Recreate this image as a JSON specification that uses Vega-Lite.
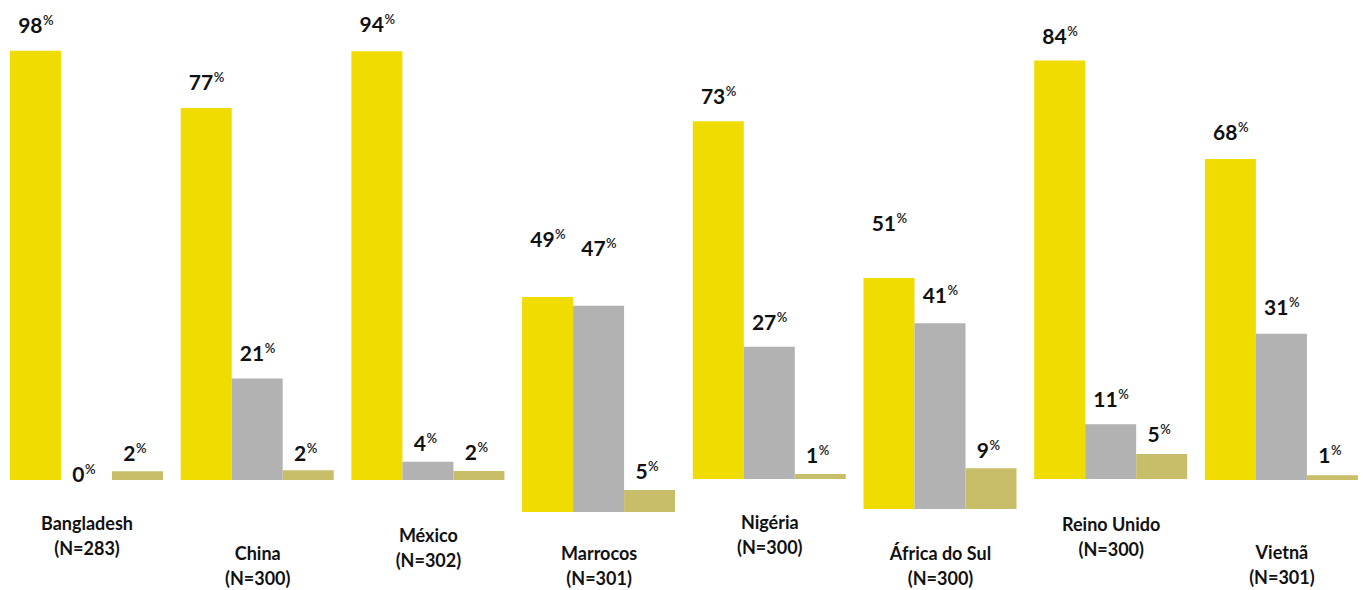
{
  "$schema": "https://vega.github.io/schema/vega-lite/v6.json",
  "background": "white",
  "padding": {"left": 10, "top": 0, "right": 0, "bottom": 0},
  "bounds": "flush",
  "spacing": 17.7,
  "config": {"view": {"stroke": null}, "font": "Lato", "axis": {"titleFont": "Lato", "titleFontSize": 18, "titleFontWeight": "bold", "titleColor": "#111111", "titleLineHeight": 25, "labels": false, "ticks": false, "domain": false, "grid": false}},
  "resolve": {"scale": {"y": "independent", "x": "independent"}},
  "data": {"values": [
    {"country": "Bangladesh", "serie": "1", "value": 98},
    {"country": "Bangladesh", "serie": "2", "value": 0},
    {"country": "Bangladesh", "serie": "3", "value": 2},
    {"country": "China", "serie": "1", "value": 77},
    {"country": "China", "serie": "2", "value": 21},
    {"country": "China", "serie": "3", "value": 2},
    {"country": "México", "serie": "1", "value": 94},
    {"country": "México", "serie": "2", "value": 4},
    {"country": "México", "serie": "3", "value": 2},
    {"country": "Marrocos", "serie": "1", "value": 49},
    {"country": "Marrocos", "serie": "2", "value": 47},
    {"country": "Marrocos", "serie": "3", "value": 5},
    {"country": "Nigéria", "serie": "1", "value": 73},
    {"country": "Nigéria", "serie": "2", "value": 27},
    {"country": "Nigéria", "serie": "3", "value": 1},
    {"country": "África do Sul", "serie": "1", "value": 51},
    {"country": "África do Sul", "serie": "2", "value": 41},
    {"country": "África do Sul", "serie": "3", "value": 9},
    {"country": "Reino Unido", "serie": "1", "value": 84},
    {"country": "Reino Unido", "serie": "2", "value": 11},
    {"country": "Reino Unido", "serie": "3", "value": 5},
    {"country": "Vietnã", "serie": "1", "value": 68},
    {"country": "Vietnã", "serie": "2", "value": 31},
    {"country": "Vietnã", "serie": "3", "value": 1}
  ]},
  "hconcat": [
    {
      "width": 153, "height": 480,
      "transform": [{"filter": "datum.country === 'Bangladesh'"}],
      "encoding": {
        "x": {"field": "serie", "type": "nominal", "scale": {"paddingInner": 0, "paddingOuter": 0}, "axis": {"title": ["Bangladesh", "(N=283)"], "titlePadding": 35}},
        "y": {"field": "value", "type": "quantitative", "scale": {"domain": [0, 109.59], "nice": false}, "axis": null}
      },
      "layer": [
        {"mark": {"type": "bar"}, "encoding": {"color": {"field": "serie", "type": "nominal", "scale": {"domain": ["1", "2", "3"], "range": ["#F0DC00", "#B2B2B2", "#C8BE6A"]}, "legend": null}}},
        {"mark": {"type": "text", "font": "Lato", "fontSize": 21, "fontWeight": "bold", "color": "#111111", "align": "right", "baseline": "alphabetic", "dx": {"expr": "datum.value >= 10 ? 7 : -2"}, "dy": {"expr": "datum.value == 0 ? 2 : datum.value < 10 ? -10 : -18"}}, "encoding": {"text": {"field": "value", "type": "quantitative"}}},
        {"mark": {"type": "text", "font": "Lato", "fontSize": 13, "fontWeight": 600, "color": "#111111", "align": "left", "baseline": "alphabetic", "dx": {"expr": "datum.value >= 10 ? 7.5 : -1.5"}, "dy": {"expr": "datum.value == 0 ? -6 : datum.value < 10 ? -18 : -26"}}, "encoding": {"text": {"value": "%"}}}
      ]
    },
    {
      "width": 153, "height": 480,
      "transform": [{"filter": "datum.country === 'China'"}],
      "encoding": {
        "x": {"field": "serie", "type": "nominal", "scale": {"paddingInner": 0, "paddingOuter": 0}, "axis": {"title": ["China", "(N=300)"], "titlePadding": 65}},
        "y": {"field": "value", "type": "quantitative", "scale": {"domain": [0, 99.38], "nice": false}, "axis": null}
      },
      "layer": [
        {"mark": {"type": "bar"}, "encoding": {"color": {"field": "serie", "type": "nominal", "scale": {"domain": ["1", "2", "3"], "range": ["#F0DC00", "#B2B2B2", "#C8BE6A"]}, "legend": null}}},
        {"mark": {"type": "text", "font": "Lato", "fontSize": 21, "fontWeight": "bold", "color": "#111111", "align": "right", "baseline": "alphabetic", "dx": {"expr": "datum.value >= 10 ? 7 : -2"}, "dy": {"expr": "datum.value < 10 ? -9 : -18"}}, "encoding": {"text": {"field": "value", "type": "quantitative"}}},
        {"mark": {"type": "text", "font": "Lato", "fontSize": 13, "fontWeight": 600, "color": "#111111", "align": "left", "baseline": "alphabetic", "dx": {"expr": "datum.value >= 10 ? 7.5 : -1.5"}, "dy": {"expr": "datum.value < 10 ? -17 : -26"}}, "encoding": {"text": {"value": "%"}}}
      ]
    },
    {
      "width": 153, "height": 480,
      "transform": [{"filter": "datum.country === 'México'"}],
      "encoding": {
        "x": {"field": "serie", "type": "nominal", "scale": {"paddingInner": 0, "paddingOuter": 0}, "axis": {"title": ["México", "(N=302)"], "titlePadding": 47}},
        "y": {"field": "value", "type": "quantitative", "scale": {"domain": [0, 105.26], "nice": false}, "axis": null}
      },
      "layer": [
        {"mark": {"type": "bar"}, "encoding": {"color": {"field": "serie", "type": "nominal", "scale": {"domain": ["1", "2", "3"], "range": ["#F0DC00", "#B2B2B2", "#C8BE6A"]}, "legend": null}}},
        {"mark": {"type": "text", "font": "Lato", "fontSize": 21, "fontWeight": "bold", "color": "#111111", "align": "right", "baseline": "alphabetic", "dx": {"expr": "datum.value >= 10 ? 7 : -2"}, "dy": {"expr": "datum.value < 10 ? -11 : -19"}}, "encoding": {"text": {"field": "value", "type": "quantitative"}}},
        {"mark": {"type": "text", "font": "Lato", "fontSize": 13, "fontWeight": 600, "color": "#111111", "align": "left", "baseline": "alphabetic", "dx": {"expr": "datum.value >= 10 ? 7.5 : -1.5"}, "dy": {"expr": "datum.value < 10 ? -19 : -27"}}, "encoding": {"text": {"value": "%"}}}
      ]
    },
    {
      "width": 153, "height": 512,
      "transform": [{"filter": "datum.country === 'Marrocos'"}],
      "encoding": {
        "x": {"field": "serie", "type": "nominal", "scale": {"paddingInner": 0, "paddingOuter": 0}, "axis": {"title": ["Marrocos", "(N=301)"], "titlePadding": 33}},
        "y": {"field": "value", "type": "quantitative", "scale": {"domain": [0, 116.63], "nice": false}, "axis": null}
      },
      "layer": [
        {"mark": {"type": "bar"}, "encoding": {"color": {"field": "serie", "type": "nominal", "scale": {"domain": ["1", "2", "3"], "range": ["#F0DC00", "#B2B2B2", "#C8BE6A"]}, "legend": null}}},
        {"mark": {"type": "text", "font": "Lato", "fontSize": 21, "fontWeight": "bold", "color": "#111111", "align": "right", "baseline": "alphabetic", "dx": {"expr": "datum.value >= 10 ? 7 : -2"}, "dy": {"expr": "datum.value < 10 ? -11 : -50"}}, "encoding": {"text": {"field": "value", "type": "quantitative"}}},
        {"mark": {"type": "text", "font": "Lato", "fontSize": 13, "fontWeight": 600, "color": "#111111", "align": "left", "baseline": "alphabetic", "dx": {"expr": "datum.value >= 10 ? 7.5 : -1.5"}, "dy": {"expr": "datum.value < 10 ? -19 : -58"}}, "encoding": {"text": {"value": "%"}}}
      ]
    },
    {
      "width": 153, "height": 479,
      "transform": [{"filter": "datum.country === 'Nigéria'"}],
      "encoding": {
        "x": {"field": "serie", "type": "nominal", "scale": {"paddingInner": 0, "paddingOuter": 0}, "axis": {"title": ["Nigéria", "(N=300)"], "titlePadding": 35}},
        "y": {"field": "value", "type": "quantitative", "scale": {"domain": [0, 97.76], "nice": false}, "axis": null}
      },
      "layer": [
        {"mark": {"type": "bar"}, "encoding": {"color": {"field": "serie", "type": "nominal", "scale": {"domain": ["1", "2", "3"], "range": ["#F0DC00", "#B2B2B2", "#C8BE6A"]}, "legend": null}}},
        {"mark": {"type": "text", "font": "Lato", "fontSize": 21, "fontWeight": "bold", "color": "#111111", "align": "right", "baseline": "alphabetic", "dx": {"expr": "datum.value >= 10 ? 7 : -2"}, "dy": {"expr": "datum.value < 10 ? -11 : -17"}}, "encoding": {"text": {"field": "value", "type": "quantitative"}}},
        {"mark": {"type": "text", "font": "Lato", "fontSize": 13, "fontWeight": 600, "color": "#111111", "align": "left", "baseline": "alphabetic", "dx": {"expr": "datum.value >= 10 ? 7.5 : -1.5"}, "dy": {"expr": "datum.value < 10 ? -19 : -25"}}, "encoding": {"text": {"value": "%"}}}
      ]
    },
    {
      "width": 153, "height": 509,
      "transform": [{"filter": "datum.country === 'África do Sul'"}],
      "encoding": {
        "x": {"field": "serie", "type": "nominal", "scale": {"paddingInner": 0, "paddingOuter": 0}, "axis": {"title": ["África do Sul", "(N=300)"], "titlePadding": 36}},
        "y": {"field": "value", "type": "quantitative", "scale": {"domain": [0, 112.37], "nice": false}, "axis": null}
      },
      "layer": [
        {"mark": {"type": "bar"}, "encoding": {"color": {"field": "serie", "type": "nominal", "scale": {"domain": ["1", "2", "3"], "range": ["#F0DC00", "#B2B2B2", "#C8BE6A"]}, "legend": null}}},
        {"mark": {"type": "text", "font": "Lato", "fontSize": 21, "fontWeight": "bold", "color": "#111111", "align": "right", "baseline": "alphabetic", "dx": {"expr": "datum.value >= 10 ? 7 : -2"}, "dy": {"expr": "datum.value < 10 ? -10 : datum.value > 45 ? -47 : -20"}}, "encoding": {"text": {"field": "value", "type": "quantitative"}}},
        {"mark": {"type": "text", "font": "Lato", "fontSize": 13, "fontWeight": 600, "color": "#111111", "align": "left", "baseline": "alphabetic", "dx": {"expr": "datum.value >= 10 ? 7.5 : -1.5"}, "dy": {"expr": "datum.value < 10 ? -18 : datum.value > 45 ? -55 : -28"}}, "encoding": {"text": {"value": "%"}}}
      ]
    },
    {
      "width": 153, "height": 479,
      "transform": [{"filter": "datum.country === 'Reino Unido'"}],
      "encoding": {
        "x": {"field": "serie", "type": "nominal", "scale": {"paddingInner": 0, "paddingOuter": 0}, "axis": {"title": ["Reino Unido", "(N=300)"], "titlePadding": 37}},
        "y": {"field": "value", "type": "quantitative", "scale": {"domain": [0, 96.17], "nice": false}, "axis": null}
      },
      "layer": [
        {"mark": {"type": "bar"}, "encoding": {"color": {"field": "serie", "type": "nominal", "scale": {"domain": ["1", "2", "3"], "range": ["#F0DC00", "#B2B2B2", "#C8BE6A"]}, "legend": null}}},
        {"mark": {"type": "text", "font": "Lato", "fontSize": 21, "fontWeight": "bold", "color": "#111111", "align": "right", "baseline": "alphabetic", "dx": {"expr": "datum.value >= 10 ? 7 : -2"}, "dy": {"expr": "datum.value < 10 ? -12 : -17"}}, "encoding": {"text": {"field": "value", "type": "quantitative"}}},
        {"mark": {"type": "text", "font": "Lato", "fontSize": 13, "fontWeight": 600, "color": "#111111", "align": "left", "baseline": "alphabetic", "dx": {"expr": "datum.value >= 10 ? 7.5 : -1.5"}, "dy": {"expr": "datum.value < 10 ? -20 : -25"}}, "encoding": {"text": {"value": "%"}}}
      ]
    },
    {
      "width": 153, "height": 480,
      "transform": [{"filter": "datum.country === 'Vietnã'"}],
      "encoding": {
        "x": {"field": "serie", "type": "nominal", "scale": {"paddingInner": 0, "paddingOuter": 0}, "axis": {"title": ["Vietnã", "(N=301)"], "titlePadding": 64}},
        "y": {"field": "value", "type": "quantitative", "scale": {"domain": [0, 101.69], "nice": false}, "axis": null}
      },
      "layer": [
        {"mark": {"type": "bar"}, "encoding": {"color": {"field": "serie", "type": "nominal", "scale": {"domain": ["1", "2", "3"], "range": ["#F0DC00", "#B2B2B2", "#C8BE6A"]}, "legend": null}}},
        {"mark": {"type": "text", "font": "Lato", "fontSize": 21, "fontWeight": "bold", "color": "#111111", "align": "right", "baseline": "alphabetic", "dx": {"expr": "datum.value >= 10 ? 7 : -2"}, "dy": {"expr": "datum.value < 10 ? -12 : -19"}}, "encoding": {"text": {"field": "value", "type": "quantitative"}}},
        {"mark": {"type": "text", "font": "Lato", "fontSize": 13, "fontWeight": 600, "color": "#111111", "align": "left", "baseline": "alphabetic", "dx": {"expr": "datum.value >= 10 ? 7.5 : -1.5"}, "dy": {"expr": "datum.value < 10 ? -20 : -27"}}, "encoding": {"text": {"value": "%"}}}
      ]
    }
  ]
}
